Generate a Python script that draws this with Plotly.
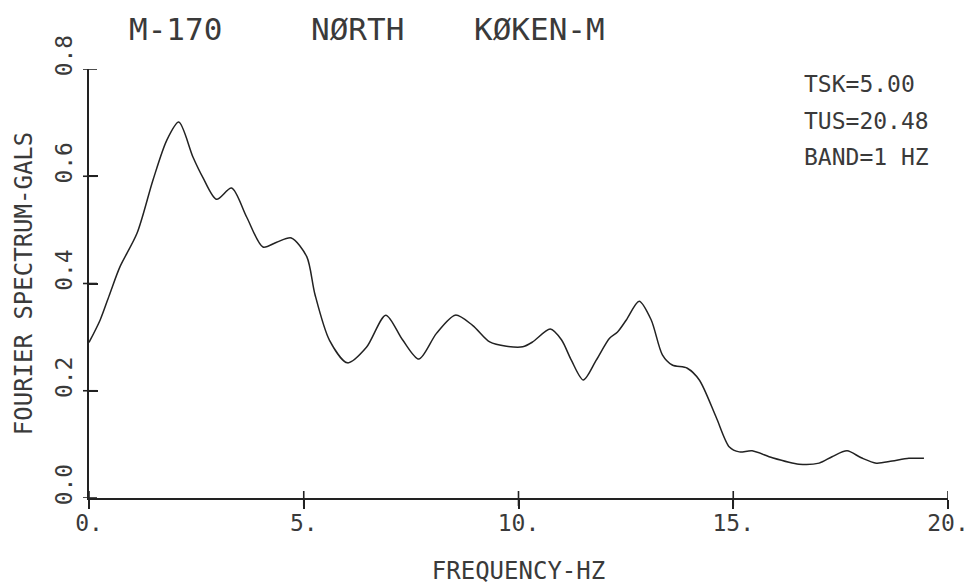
import plotly.graph_objects as go

# ---- data ----
freq_hz = [0.0, 0.26, 0.49, 0.72, 1.12, 1.49, 1.81, 2.09, 2.42, 2.65, 2.97, 3.32, 3.67,
           4.05, 4.37, 4.71, 5.07, 5.26, 5.6, 6.02, 6.46, 6.91, 7.3, 7.68, 8.09, 8.53,
           8.93, 9.33, 9.72, 10.1, 10.33, 10.74, 11.0, 11.23, 11.51, 11.81, 12.12, 12.3,
           12.51, 12.81, 13.09, 13.35, 13.58, 13.93, 14.21, 14.6, 14.91, 15.14, 15.44,
           15.91, 16.53, 17.0, 17.3, 17.65, 17.98, 18.33, 18.7, 19.09, 19.44]
spectrum_gals = [0.29, 0.332, 0.382, 0.431, 0.494, 0.593, 0.667, 0.701, 0.636, 0.598, 0.557,
                 0.578, 0.524, 0.468, 0.477, 0.485, 0.45, 0.38, 0.294, 0.252, 0.281, 0.341,
                 0.295, 0.259, 0.307, 0.341, 0.322, 0.291, 0.283, 0.282, 0.291, 0.315, 0.295,
                 0.257, 0.22, 0.257, 0.298, 0.309, 0.332, 0.367, 0.332, 0.267, 0.248, 0.242,
                 0.22, 0.151, 0.095, 0.086, 0.088, 0.075, 0.063, 0.065, 0.077, 0.088, 0.075,
                 0.065, 0.069, 0.074, 0.074]

x_tickvals = [0, 5, 10, 15, 20]
x_ticktext = ["0.", "5.", "10.", "15.", "20."]
y_tickvals = [0.0, 0.2, 0.4, 0.6, 0.8]
y_ticktext = ["0.0", "0.2", "0.4", "0.6", "0.8"]

title_parts = ["M-170", "NØRTH", "KØKEN-M"]
info_lines = ["TSK=5.00", "TUS=20.48", "BAND=1 HZ"]

# ---- layout geometry (pixels) ----
W, H = 980, 585
L, R, T, B = 89, 948, 69, 498
FONT = "DejaVu Sans Mono, Liberation Mono, monospace"
INK = "#222222"
TXT = "#3a3a3a"


def pxx(xp):
    return (xp - L) / (R - L)


def pxy(yp):
    return (B - yp) / (B - T)


fig = go.Figure()
fig.add_trace(go.Scatter(
    x=freq_hz, y=spectrum_gals, mode="lines",
    line=dict(color=INK, width=1.5, shape="spline", smoothing=0.8),
    showlegend=False, hoverinfo="x+y",
))

title_pos = [(175, 29), (357, 29), (539, 29)]
annotations = []
for txt, (cx, cy) in zip(title_parts, title_pos):
    annotations.append(dict(text=txt, xref="paper", yref="paper", x=pxx(cx), y=pxy(cy),
                            xanchor="center", yanchor="middle", showarrow=False,
                            font=dict(family=FONT, size=31, color=TXT)))
info_pos = [84, 121, 157]
for txt, cy in zip(info_lines, info_pos):
    annotations.append(dict(text=txt, xref="paper", yref="paper", x=pxx(802), y=pxy(cy),
                            xanchor="left", yanchor="middle", showarrow=False,
                            font=dict(family=FONT, size=23, color=TXT)))

# plotter-style tick marks that cross the axis lines
shapes = []
for v in x_tickvals:
    shapes.append(dict(type="line", xref="x", yref="paper", ysizemode="pixel", yanchor=0,
                       x0=v, x1=v, y0=-8, y1=7, line=dict(color=INK, width=1.6)))
for v in y_tickvals:
    shapes.append(dict(type="line", yref="y", xref="paper", xsizemode="pixel", xanchor=0,
                       y0=v, y1=v, x0=-6, x1=8, line=dict(color=INK, width=1.6)))

fig.update_layout(
    width=W, height=H,
    margin=dict(l=L, r=W - R, t=T, b=H - B, pad=0, autoexpand=False),
    paper_bgcolor="white", plot_bgcolor="white",
    font=dict(family=FONT, color=INK),
    annotations=annotations,
    shapes=shapes,
    xaxis=dict(
        range=[0, 20], tickvals=x_tickvals, ticktext=x_ticktext, automargin=False,
        showgrid=False, zeroline=False, showline=True, linecolor=INK, linewidth=1.8,
        ticks="outside", ticklen=9, tickwidth=2, tickcolor=INK, ticklabelstandoff=-6,
        tickfont=dict(family=FONT, size=23, color=TXT),
        title=dict(text="FREQUENCY-HZ", font=dict(family=FONT, size=24, color=TXT), standoff=30),
    ),
    yaxis=dict(
        range=[0, 0.8], tickvals=y_tickvals, ticktext=y_ticktext, automargin=False,
        showgrid=False, zeroline=False, showline=True, linecolor=INK, linewidth=1.8,
        ticks="inside", ticklen=9, tickwidth=2, tickcolor=INK, tickangle=-90,
        ticklabelshift=-10, ticklabelstandoff=6,
        tickfont=dict(family=FONT, size=23, color=TXT),
        title=dict(text="FOURIER SPECTRUM-GALS", font=dict(family=FONT, size=24, color=TXT), standoff=12),
    ),
)

fig.write_html(
    "out.html",
    config={"displayModeBar": False},
    post_script="document.body.style.margin='0';document.body.style.overflow='hidden';",
)
